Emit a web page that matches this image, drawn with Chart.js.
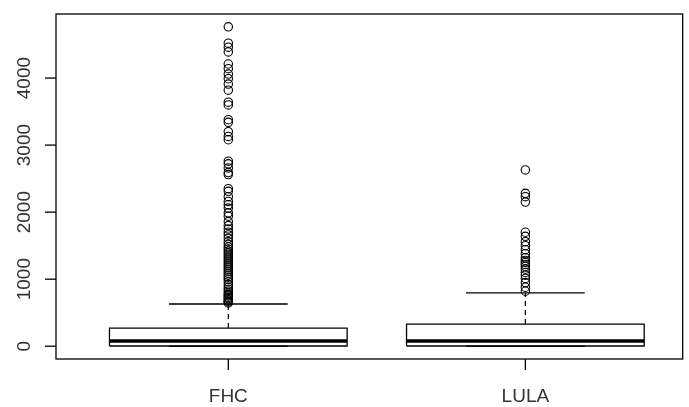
<!DOCTYPE html>
<html lang="pt">
<head>
  <meta charset="UTF-8">
  <title>Boxplot FHC x LULA</title>
  <script src="https://cdn.jsdelivr.net/npm/chart.js"></script>
  <style>
    body { margin: 0; background: #fff; }
    canvas { display: block; }
  </style>
</head>
<body>
  <canvas id="chart" width="689" height="407"></canvas>
  <script>
    // dados
    var categorias = ["FHC", "LULA"];
    var q1 = [3, 3];
    var mediana = [78, 78];
    var q3 = [271, 331];
    var bigodeInf = [0, 0];
    var bigodeSup = [630, 795];
    var yTicks = [0, 1000, 2000, 3000, 4000];

    var outliersFHC = [4765, 4520, 4460, 4390, 4210, 4140, 4060, 3990, 3910, 3820,
      3640, 3600, 3380, 3340, 3200, 3130, 3080, 2760, 2720, 2660, 2590, 2560,
      2350, 2310, 2230, 2160, 2110, 2060, 1990, 1940, 1860, 1800, 1750, 1700,
      1660, 1610, 1560, 1520, 1480, 1450, 1420, 1390, 1360, 1330, 1300, 1270,
      1240, 1210, 1180, 1150, 1120, 1090, 1060, 1030, 1000, 960, 920, 880, 850,
      820, 790, 770, 750, 730, 710, 690, 675, 660, 645];
    var outliersLULA = [2630, 2280, 2230, 2150, 1700, 1640, 1560, 1500, 1440, 1380,
      1320, 1280, 1250, 1220, 1190, 1150, 1100, 1060, 1010, 950, 880, 820];

    var meiaCaixa = 0.4;
    var meioCap = 0.2;

    // monta os segmentos (null quebra a linha)
    var caixas = [], medianas = [], bigodes = [], caps = [];
    for (var i = 0; i < categorias.length; i++) {
      var x = i + 1;
      caixas.push({x: x - meiaCaixa, y: q1[i]}, {x: x + meiaCaixa, y: q1[i]},
        {x: x + meiaCaixa, y: q3[i]}, {x: x - meiaCaixa, y: q3[i]},
        {x: x - meiaCaixa, y: q1[i]}, {x: x, y: null});
      medianas.push({x: x - meiaCaixa, y: mediana[i]}, {x: x + meiaCaixa, y: mediana[i]}, {x: x, y: null});
      bigodes.push({x: x, y: q3[i]}, {x: x, y: bigodeSup[i]}, {x: x, y: null},
        {x: x, y: q1[i]}, {x: x, y: bigodeInf[i]}, {x: x, y: null});
      caps.push({x: x - meioCap, y: bigodeSup[i]}, {x: x + meioCap, y: bigodeSup[i]}, {x: x, y: null},
        {x: x - meioCap, y: bigodeInf[i]}, {x: x + meioCap, y: bigodeInf[i]}, {x: x, y: null});
    }

    var pontos = [];
    outliersFHC.forEach(function (v) { pontos.push({x: 1, y: v}); });
    outliersLULA.forEach(function (v) { pontos.push({x: 2, y: v}); });

    function linha(data, largura, tracejado) {
      return {
        data: data,
        showLine: true,
        spanGaps: false,
        borderColor: "#000",
        borderWidth: largura,
        borderDash: tracejado || [],
        pointRadius: 0,
        fill: false
      };
    }

    // eixos no estilo do R, desenhados com as escalas do Chart.js
    var eixosR = {
      id: "eixosR",
      afterDraw: function (chart) {
        var ctx = chart.ctx;
        var area = chart.chartArea;
        var sx = chart.scales.x;
        var sy = chart.scales.y;
        ctx.save();
        ctx.strokeStyle = "#000";
        ctx.lineWidth = 1.3;
        ctx.strokeRect(area.left, area.top, area.right - area.left - 1, area.bottom - area.top);

        ctx.fillStyle = "#333";
        ctx.font = "19px 'Liberation Sans', Arial, sans-serif";
        ctx.textAlign = "center";
        ctx.textBaseline = "middle";
        yTicks.forEach(function (t) {
          var py = sy.getPixelForValue(t);
          ctx.beginPath();
          ctx.moveTo(area.left - 11, py);
          ctx.lineTo(area.left, py);
          ctx.stroke();
          ctx.save();
          ctx.translate(25, py);
          ctx.rotate(-Math.PI / 2);
          ctx.fillText(String(t), 0, 0);
          ctx.restore();
        });
        categorias.forEach(function (c, i) {
          var px = sx.getPixelForValue(i + 1);
          ctx.beginPath();
          ctx.moveTo(px, area.bottom);
          ctx.lineTo(px, area.bottom + 11);
          ctx.stroke();
          ctx.fillText(c, px, 397);
        });
        ctx.restore();
      }
    };

    var chart = new Chart(document.getElementById("chart").getContext("2d"), {
      type: "scatter",
      data: {
        datasets: [
          linha(bigodes, 1.2, [5, 4]),
          linha(caps, 1.3),
          linha(caixas, 1.3),
          linha(medianas, 3.5),
          {
            data: pontos,
            pointStyle: "circle",
            pointRadius: 4.2,
            pointBorderWidth: 1.1,
            borderColor: "#000",
            backgroundColor: "rgba(0,0,0,0)",
            showLine: false
          }
        ]
      },
      options: {
        responsive: false,
        animation: false,
        devicePixelRatio: 1,
        layout: { padding: { left: 56, top: 14, right: 1, bottom: 48 } },
        plugins: { legend: { display: false }, tooltip: { enabled: false } },
        scales: {
          x: { type: "linear", min: 0.42, max: 2.533, display: false },
          y: { type: "linear", min: -190.6, max: 4955.6, display: false }
        }
      },
      plugins: [eixosR]
    });
  </script>
</body>
</html>
